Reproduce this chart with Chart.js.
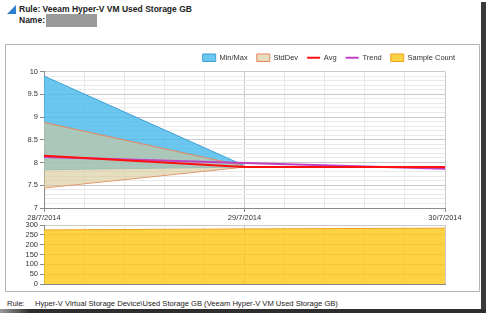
<!DOCTYPE html>
<html>
<head>
<meta charset="utf-8">
<script src="https://cdn.jsdelivr.net/npm/chart.js@4.4.1/dist/chart.umd.min.js"></script>
<style>
  body { margin: 0; width: 486px; height: 313px; background: #fff; position: relative; overflow: hidden;
         font-family: "Liberation Sans", Arial, sans-serif; color: #222; }
  #icon { position: absolute; left: 7px; top: 5px; width: 0; height: 0;
          border-left: 9px solid transparent; border-bottom: 9px solid #2f7fd0; }
  .hdr { position: absolute; left: 19px; font-size: 8.5px; font-weight: bold; }
  #namebox { position: absolute; left: 46px; top: 14px; width: 51px; height: 13px; background: #9a9a9a; }
  #frame { position: absolute; left: 5px; top: 44px; width: 473px; height: 246px; border: 1px solid #b4b4b4; }
  #main { position: absolute; left: 6px; top: 45px; }
  #samples { position: absolute; left: 6px; top: 221px; }
  .foot { position: absolute; top: 299px; font-size: 7.6px; color: #222; }
  #shadowR { position: absolute; left: 481px; top: 2px; width: 5px; height: 311px; background: #3a3a3a; }
  #shadowB { position: absolute; left: 0; top: 309px; width: 486px; height: 4px;
             background: linear-gradient(to right, #9a9a9a, #2e2e2e 30px, #2e2e2e); }
</style>
</head>
<body>
<div id="icon"></div>
<div class="hdr" style="top:4px">Rule: Veeam Hyper-V VM Used Storage GB</div>
<div class="hdr" style="top:15px">Name:</div>
<div id="namebox"></div>
<div id="frame"></div>
<canvas id="main" width="473" height="176"></canvas>
<canvas id="samples" width="473" height="68"></canvas>
<div class="foot" style="left:7px">Rule:</div>
<div class="foot" style="left:35px">Hyper-V Virtual Storage Device\Used Storage GB (Veeam Hyper-V VM Used Storage GB)</div>
<div id="shadowR"></div>
<div id="shadowB"></div>

<script>
const dayLabels = ["28/7/2014", "29/7/2014", "30/7/2014"];

const maxValues = [9.9, 7.93, null];
const minValues = [7.84, 7.9, null];
const stdUpper = [8.88, 7.92, null];
const stdLower = [7.44, 7.9, null];
const avgValues = [8.15, 7.9, 7.9];
const trendValues = [8.12, 7.99, 7.86];
const sampleCounts = [275, 280, 284];

const toPoints = (arr) => arr.map((v, i) => ({ x: i, y: v }));
const isWhole = (v, step) => Math.abs(v / step - Math.round(v / step)) < 1e-6;

const tickFont = { family: "Liberation Sans", size: 7.5 };
const majorGrid = "#c9c9c9";
const minorGrid = "#e9e9e9";

// x axis shared by both charts: one major line per day, four minor between
function dayAxis(showLabels) {
  return {
    type: "linear",
    min: 0,
    max: 2,
    ticks: {
      stepSize: 0.2,
      autoSkip: false,
      maxRotation: 0,
      display: showLabels,
      padding: 1,
      color: "#333",
      font: tickFont,
      callback: (v) => (isWhole(v, 1) ? dayLabels[Math.round(v)] : ""),
    },
    grid: {
      color: (c) => (c.tick && isWhole(c.tick.value, 1) ? majorGrid : minorGrid),
      tickColor: (c) => (c.tick && isWhole(c.tick.value, 1) ? "#888" : "rgba(0,0,0,0)"),
      drawTicks: showLabels,
      tickLength: 4,
    },
    border: { color: "#8a8a8a" },
    afterFit: (s) => {
      s.height = showLabels ? 13 : 0;
      s.paddingLeft = 0;
      s.paddingRight = showLabels ? 34 : 0;
    },
  };
}

new Chart(document.getElementById("main"), {
  type: "line",
  data: {
    datasets: [
      {
        label: "Min/Max",
        data: toPoints(maxValues),
        borderColor: "#3a9fd4",
        backgroundColor: "rgba(70,185,235,0.8)",
        borderWidth: 1,
        fill: "+1",
        pointStyle: "rect",
        order: 4,
      },
      {
        label: "",
        data: toPoints(minValues),
        borderColor: "#5ab2dc",
        borderWidth: 1,
        fill: false,
        order: 4,
      },
      {
        label: "StdDev",
        data: toPoints(stdUpper),
        borderColor: "#e8845c",
        backgroundColor: "rgba(215,200,150,0.6)",
        borderWidth: 1,
        fill: "+1",
        pointStyle: "rect",
        order: 3,
      },
      {
        label: "",
        data: toPoints(stdLower),
        borderColor: "#e8845c",
        borderWidth: 1,
        fill: false,
        order: 3,
      },
      {
        label: "Avg",
        data: toPoints(avgValues),
        borderColor: "#ff1010",
        borderWidth: 2,
        fill: false,
        pointStyle: "line",
        order: 0,
      },
      {
        label: "Trend",
        data: toPoints(trendValues),
        borderColor: "#c040c0",
        borderWidth: 2,
        fill: false,
        pointStyle: "line",
        order: 1,
      },
      {
        label: "Sample Count",
        data: [],
        borderColor: "#f0a020",
        backgroundColor: "rgba(252,200,20,0.8)",
        borderWidth: 1,
        pointStyle: "rect",
        order: 9,
      },
    ],
  },
  options: {
    responsive: false,
    animation: false,
    layout: { padding: { left: 0, right: 15, top: 0, bottom: 0 } },
    elements: { point: { radius: 0 }, line: { tension: 0 } },
    plugins: {
      tooltip: { enabled: false },
      legend: {
        position: "top",
        align: "end",
        labels: {
          usePointStyle: true,
          pointStyleWidth: 13,
          boxHeight: 9,
          padding: 9,
          color: "#333",
          font: tickFont,
          filter: (item) => item.text !== "",
          sort: (a, b) => a.datasetIndex - b.datasetIndex,
        },
      },
    },
    scales: {
      x: dayAxis(true),
      y: {
        min: 7,
        max: 10,
        ticks: {
          stepSize: 0.1,
          autoSkip: false,
          padding: 2,
          color: "#333",
          font: tickFont,
          callback: (v) => (isWhole(v, 0.5) ? String(Math.round(v * 10) / 10) : ""),
        },
        grid: {
          color: (c) => (c.tick && isWhole(c.tick.value, 0.5) ? majorGrid : minorGrid),
          tickColor: (c) => (c.tick && isWhole(c.tick.value, 0.5) ? "#888" : "rgba(0,0,0,0)"),
          tickLength: 4,
        },
        border: { color: "#8a8a8a" },
        afterFit: (s) => { s.width = 38; s.paddingTop = 0; s.paddingBottom = 0; },
      },
    },
  },
});

new Chart(document.getElementById("samples"), {
  type: "line",
  data: {
    datasets: [
      {
        label: "Sample Count",
        data: toPoints(sampleCounts),
        borderColor: "#f0a020",
        backgroundColor: "rgba(252,200,20,0.8)",
        borderWidth: 1,
        fill: "origin",
      },
    ],
  },
  options: {
    responsive: false,
    animation: false,
    layout: { padding: { left: 0, right: 34, top: 4, bottom: 5 } },
    elements: { point: { radius: 0 }, line: { tension: 0 } },
    plugins: { legend: { display: false }, tooltip: { enabled: false } },
    scales: {
      x: dayAxis(false),
      y: {
        min: 0,
        max: 300,
        ticks: { stepSize: 50, autoSkip: false, padding: 2, color: "#333", font: tickFont },
        grid: { color: majorGrid, tickColor: "#888", tickLength: 4 },
        border: { color: "#8a8a8a" },
        afterFit: (s) => { s.width = 38; s.paddingTop = 0; s.paddingBottom = 0; },
      },
    },
  },
});
</script>
</body>
</html>
